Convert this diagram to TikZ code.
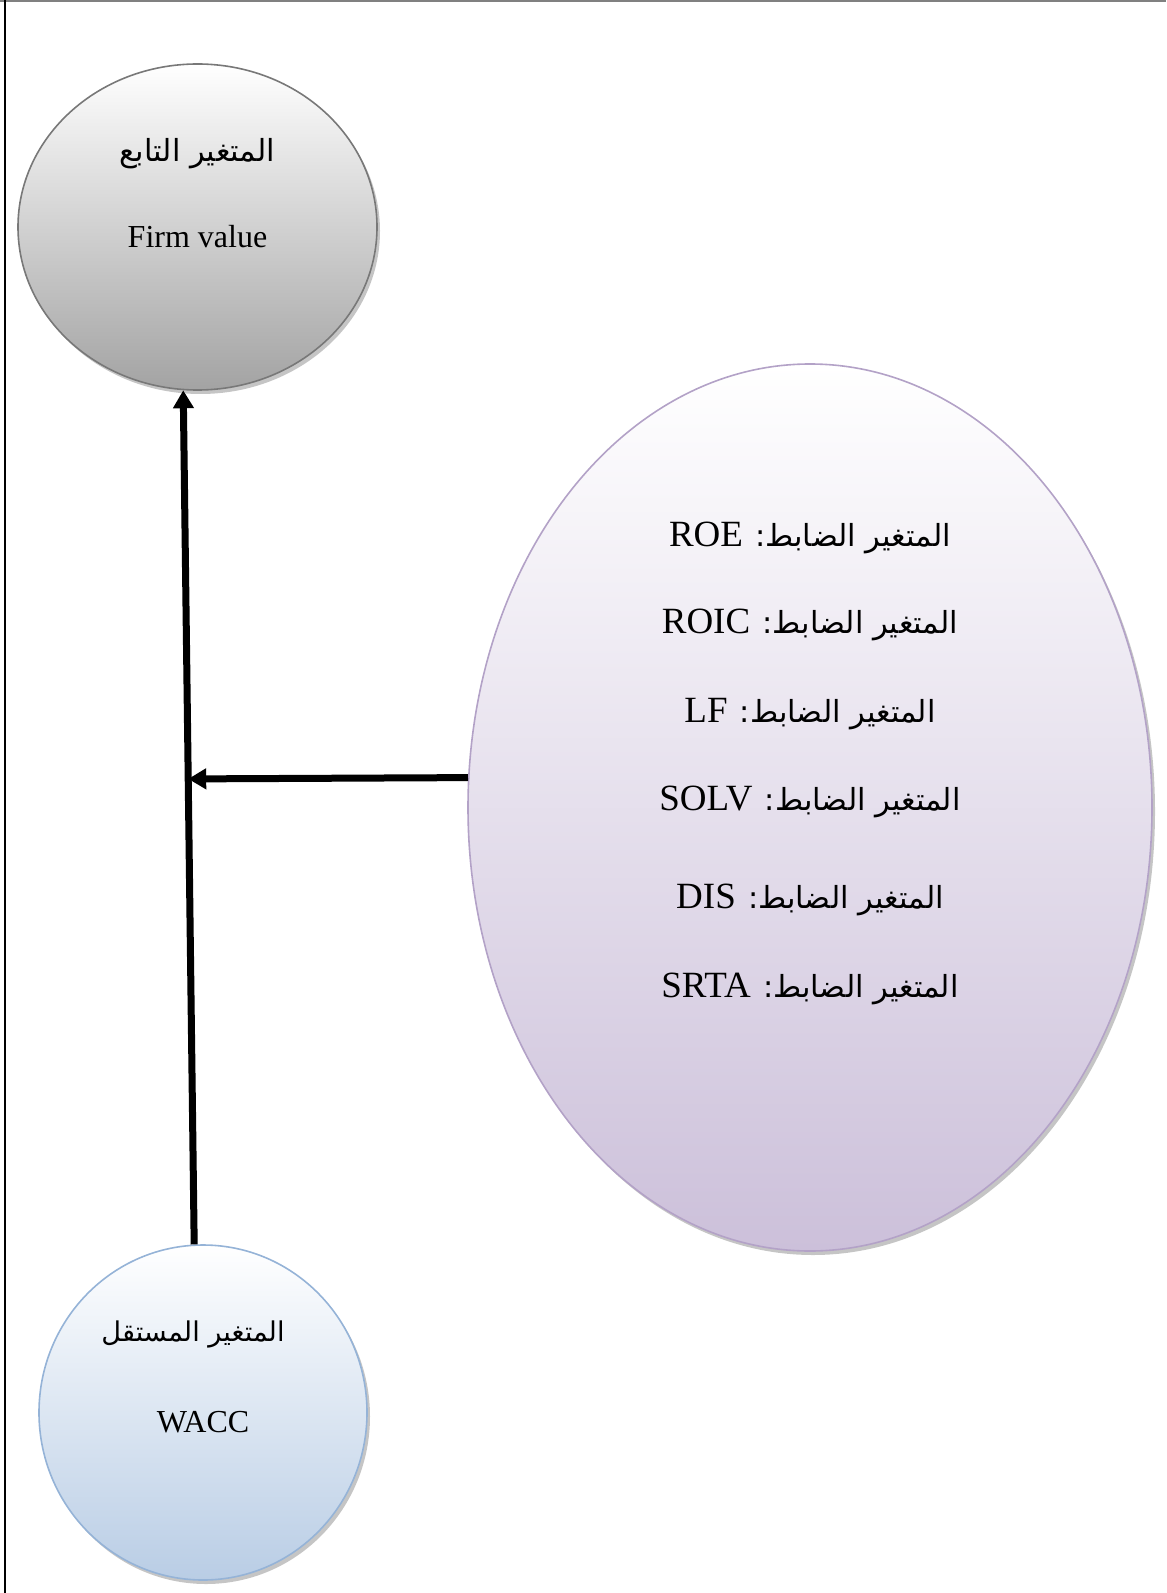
\documentclass[tikz,border=0pt]{standalone}
\usepackage{fontspec}
\setmainfont{Liberation Serif}
\newfontfamily\arabicfont[Script=Arabic,Scale=0.8]{DejaVu Sans}
\TeXXeTstate=1
\usepackage{tikz}
\usetikzlibrary{arrows.meta}
\usetikzlibrary{shapes}
\usetikzlibrary{shadows}

\definecolor{grayedge}{HTML}{787878}
\definecolor{graybot}{HTML}{A3A3A3}
\definecolor{blueedge}{HTML}{95B3D7}
\definecolor{bluebot}{HTML}{B9CDE5}
\definecolor{purpedge}{HTML}{B3A2C7}
\definecolor{purpbot}{HTML}{CCC0DA}

\newcommand{\arabtxt}[1]{{\arabicfont\beginR #1\endR}}
\newcommand{\ctlvar}[1]{\beginR{\arabicfont\fontsize{19}{22}\selectfont المتغير الضابط:} \beginL #1\endL\endR}

\begin{document}
\begin{tikzpicture}[->,>={Triangle[length=9pt,width=10pt]},
                    x=0.5pt,y=-0.5pt]
\tikzstyle{bubble}=[draw,ellipse,inner sep=0pt,line width=0.8pt,
  drop shadow={shadow xshift=1.5pt,shadow yshift=-2pt,fill=black!45,opacity=0.5}]
\tikzstyle{lbl}=[anchor=base,inner sep=0pt]
\tikzstyle{ctltxt}=[lbl,font={\fontsize{18.5}{22}\selectfont}]
\tikzstyle{link}=[line width=3.5pt]
\useasboundingbox (0,0) rectangle (1166,1593);
% page frame
\draw[-,gray,line width=0.8pt] (0,0.8) -- (1166,0.8);
\draw[-,black,line width=0.8pt] (5,0) -- (5,1593);

\path
node[bubble,draw=grayedge,top color=white,bottom color=graybot,
     minimum width=179.5pt,minimum height=163pt] (F) at (197.5,227) {}
(F.center) ++ (0,-65) node[lbl,font={\fontsize{19}{22}\selectfont}] (F1) {\arabtxt{المتغير التابع}}
(F.center) ++ (0,21) node[lbl,font={\fontsize{16}{19}\selectfont}] (F2) {Firm value}
node[bubble,draw=blueedge,top color=white,bottom color=bluebot,
     minimum width=164pt,minimum height=167.5pt] (W) at (203,1412.5) {}
(W.center) ++ (-10,-71.5) node[lbl,font={\fontsize{17}{20}\selectfont}] (W1) {\arabtxt{المتغير المستقل}}
(W.center) ++ (0,19.5) node[lbl,font={\fontsize{16}{19}\selectfont}] (W2) {WACC}
node[bubble,draw=purpedge,top color=white,bottom color=purpbot,
     minimum width=342pt,minimum height=443.5pt] (C) at (810,807.5) {}
(C.center) ++ (0,-261.5) node[ctltxt] (C1) {\ctlvar{ROE}}
(C.center) ++ (0,-174.5) node[ctltxt] (C2) {\ctlvar{ROIC}}
(C.center) ++ (0,-85.5) node[ctltxt] (C3) {\ctlvar{LF}}
(C.center) ++ (0,2.5) node[ctltxt] (C4) {\ctlvar{SOLV}}
(C.center) ++ (0,100.5) node[ctltxt] (C5) {\ctlvar{DIS}}
(C.center) ++ (0,189.5) node[ctltxt] (C6) {\ctlvar{SRTA}};

\path (W.93) -- (F.265) coordinate[pos=0.545] (J);
\draw[link] (W.93) -- (F.265);
\draw[link] (C.175) -- (J);
\end{tikzpicture}
\end{document}
